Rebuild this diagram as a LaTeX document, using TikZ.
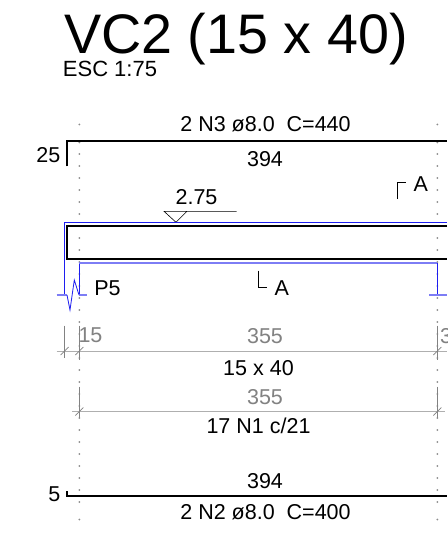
\documentclass[tikz,border=0pt]{standalone}
\usepackage{fontspec}
\setmainfont{Liberation Sans}
\definecolor{dimgray}{RGB}{130,130,130}
\definecolor{dimline}{RGB}{175,175,175}
\definecolor{dotgray}{RGB}{140,140,140}
\definecolor{bl}{RGB}{30,30,240}
\definecolor{lbl}{RGB}{125,125,245}
\tikzset{
  lab/.style={inner sep=0pt,anchor=base,font=\fontsize{21.5}{22}\selectfont,text=black},
  glab/.style={lab,text=dimgray},
  bar/.style={line width=2.1pt,black},
  dimln/.style={line width=1pt,dimline},
  tick/.style={line width=.7pt,dimgray},
  sup/.style={line width=.8pt,bl},
  supl/.style={line width=1.5pt,lbl},
  thin blk/.style={line width=.6pt,black}
}
\begin{document}
\begin{tikzpicture}[x=1pt,y=-1pt]
\useasboundingbox (0,0) rectangle (447,540);
\fill[white] (0,0) rectangle (447,540);
% dotted axes
\foreach \x in {79.3,437.3}{
  \foreach \y in {124.5,142.5,154,166,178,190,202,214,226,238,250,262,274,286,298,310,322,334,346,358,370,382,394,406,418,430,442,454,466,478,490,502,519.5}
    \fill[dotgray] (\x,\y) circle (1);
}
\node[inner sep=0pt,anchor=base,font=\fontsize{55.7}{56}\selectfont] (title) at (236,54) {VC2 (15 x 40)};
\node[inner sep=0pt,anchor=base,font=\fontsize{22}{22}\selectfont] (esc) at (110,77) {ESC 1:75};
% top bar
\draw[bar] (67,166.5) -- (67,141) -- (447,141);
\node[lab] (n3) at (265.5,132) {2 N3 ø8.0\ \ C=440};
\node[lab] (l3) at (265,167) {394};
\node[lab,anchor=base east] (h3) at (60.5,162) {25};
% section marks
\draw[thin blk] (397,199) -- (397,182.5) -- (405.5,182.5);
\node[lab] (a1) at (420.7,191) {A};
% level
\node[lab] (lev) at (196.5,204) {2.75};
\draw[thin blk] (236.7,211.3) -- (164,211.3) -- (176,222.3) -- (187,211.3);
% beam
\draw[sup] (79.3,295) -- (79.3,263);
\draw[sup] (64.7,296) -- (64.7,222.5) -- (447,222.5);
\draw[line width=2pt] (447,226.3) -- (67,226.3) -- (67,259.3) -- (447,259.3);
\draw[supl] (79.3,263) -- (437.3,263);
\draw[sup] (437.3,263) -- (437.3,295);
\draw[supl] (56.7,295) -- (67,295);
\draw[supl] (79,295) -- (87.3,295);
\draw[supl] (429,295) -- (447,295);
\draw[sup] (67,295) -- (70,310) -- (74.3,280) -- (79,295);
\node[lab] (p5) at (107.5,295) {P5};
\node[lab] (a2) at (281.7,295) {A};
\draw[thin blk] (258.5,270.7) -- (258.5,287) -- (267,287);
% dimensions
\draw[dimln] (56.7,351) -- (447,351);
\draw[dimln] (72,411.5) -- (445,411.5);
\draw[tick] (64.7,325.7) -- (64.7,358);
\draw[tick] (79.3,325.7) -- (79.3,360);
\draw[tick] (437.3,325.7) -- (437.3,360);
\draw[tick] (79.3,386.7) -- (79.3,418);
\draw[tick] (437.3,386.7) -- (437.3,418);
\foreach \p/\q in {64.7/351,79.3/351,437.3/351,79.3/411.5,437.3/411.5}
  \draw[tick] (\p-4,\q+4) -- (\p+4,\q-4);
\node[glab] (d15) at (90.5,342.7) {15};
\node[glab] (d355) at (265,343) {355};
\node[glab,anchor=base west] (d3) at (440,343) {3};
\node[lab] (sec) at (258.5,375) {15 x 40};
\node[glab] (e355) at (265,404) {355};
\node[lab] (n1) at (258.5,433) {17 N1 c/21};
% bottom bar
\draw[bar] (67,491) -- (67,495.7) -- (447,495.7);
\node[lab] (l2) at (265,488) {394};
\node[lab] (n2) at (265.5,519) {2 N2 ø8.0\ \ C=400};
\node[lab,anchor=base east] (h2) at (60.5,501) {5};
\end{tikzpicture}
\end{document}
